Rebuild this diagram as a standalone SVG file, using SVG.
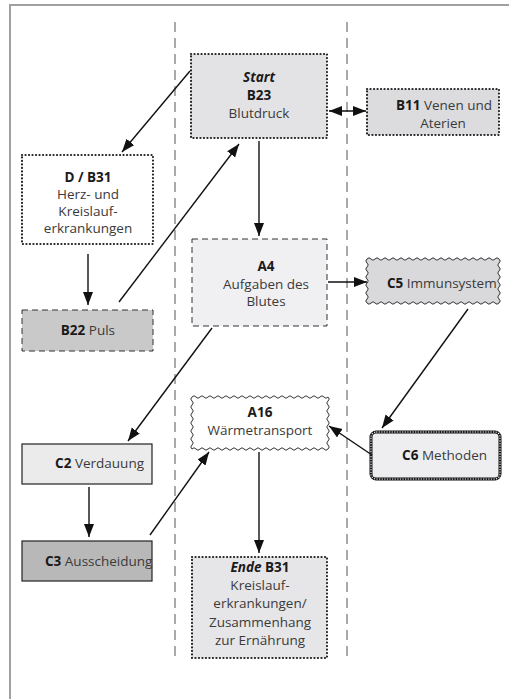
<svg xmlns="http://www.w3.org/2000/svg" width="509" height="699" viewBox="0 0 509 699">
<defs>
<marker id="ah" markerUnits="userSpaceOnUse" markerWidth="14" markerHeight="11" refX="13" refY="5" orient="auto-start-reverse"><path d="M0,0 L13,5 L0,10 z" fill="#111"/></marker>
<style>
text{font-family:"Open Sans","Noto Sans","DejaVu Sans",sans-serif;font-size:13.5px;fill:#3a3a3a}
.b{font-weight:bold;fill:#1a1a1a}
.bi{font-weight:bold;font-style:italic;fill:#1a1a1a}
.m{text-anchor:middle}
.e{text-anchor:end}
.dot{stroke:#222;stroke-width:2.2;stroke-dasharray:0.1 3.4;stroke-linecap:round}
.dash{stroke:#333;stroke-width:1;stroke-dasharray:6 4}
.solid{stroke:#222;stroke-width:1.2}
.wave{stroke:#333;stroke-width:1}
.con line{stroke:#111;stroke-width:1.4;marker-end:url(#ah)}
</style>
</defs>
<rect width="509" height="699" fill="#fff"/>
<path d="M10,699 V5 H509" fill="none" stroke="#a0a0a0" stroke-width="2"/>
<g id="lanes" stroke="#555" stroke-width="1" stroke-dasharray="10 6">
<line x1="175" y1="22" x2="175" y2="657"/>
<line x1="347" y1="22" x2="347" y2="657"/>
</g>
<g id="start">
<rect x="191" y="54" width="136" height="84" fill="#e3e3e5" class="dot"/>
<text x="259" y="82" class="m bi">Start</text>
<text x="259" y="100" class="m b">B23</text>
<text x="259" y="118" class="m">Blutdruck</text>
</g>
<g id="b11">
<rect x="367" y="89" width="132" height="46" fill="#dcdcde" class="dot"/>
<text x="444" y="110" class="m"><tspan class="b">B11</tspan> Venen und</text>
<text x="443" y="128" class="m">Aterien</text>
</g>
<g id="d_b31">
<rect x="22" y="155" width="131" height="89" fill="#fff" class="dot"/>
<text x="88" y="182" class="m b">D / B31</text>
<text x="88" y="199" class="m">Herz- und</text>
<text x="88" y="216" class="m">Kreislauf-</text>
<text x="88" y="233" class="m">erkrankungen</text>
</g>
<g id="b22">
<rect x="22" y="310" width="131" height="41" fill="#c9c9c9" class="dash"/>
<text x="115" y="335" class="e"><tspan class="b">B22</tspan> Puls</text>
</g>
<g id="a4">
<rect x="192" y="239" width="135" height="87" fill="#f0f0f2" class="dash"/>
<text x="266" y="271" class="m b">A4</text>
<text x="266" y="289" class="m">Aufgaben des</text>
<text x="266" y="306" class="m">Blutes</text>
</g>
<g id="c5">
<path d="M367,259 q2,-2.5 4,0 t4,0 t4,0 t4,0 t4,0 t4,0 t4,0 t4,0 t4,0 t4,0 t4,0 t4,0 t4,0 t4,0 t4,0 t4,0 t4,0 t4,0 t4,0 t4,0 t4,0 t4,0 t4,0 t4,0 t4,0 t4,0 t4,0 t4,0 t4,0 t4,0 t4,0 t4,0 t4,0 q2.5,2 0,4 t0,4 t0,4 t0,4 t0,4 t0,4 t0,4 t0,4 t0,4 t0,4 t0,4 q-2,2.5 -4,0 t-4,0 t-4,0 t-4,0 t-4,0 t-4,0 t-4,0 t-4,0 t-4,0 t-4,0 t-4,0 t-4,0 t-4,0 t-4,0 t-4,0 t-4,0 t-4,0 t-4,0 t-4,0 t-4,0 t-4,0 t-4,0 t-4,0 t-4,0 t-4,0 t-4,0 t-4,0 t-4,0 t-4,0 t-4,0 t-4,0 t-4,0 t-4,0 q-2.5,-2 0,-4 t0,-4 t0,-4 t0,-4 t0,-4 t0,-4 t0,-4 t0,-4 t0,-4 t0,-4 t0,-4 z" fill="#d9d9db" class="wave"/>
<text x="387" y="288"><tspan class="b">C5</tspan> Immunsystem</text>
</g>
<g id="c2">
<rect x="22" y="444" width="130" height="40" fill="#ebebeb" class="solid"/>
<text x="144" y="468" class="e"><tspan class="b">C2</tspan> Verdauung</text>
</g>
<g id="c3">
<rect x="22" y="541" width="130" height="40" fill="#b8b8b8" class="solid"/>
<text x="45" y="566"><tspan class="b">C3</tspan> Ausscheidung</text>
</g>
<g id="a16">
<path d="M192,397 q2,-2.5 4,0 t4,0 t4,0 t4,0 t4,0 t4,0 t4,0 t4,0 t4,0 t4,0 t4,0 t4,0 t4,0 t4,0 t4,0 t4,0 t4,0 t4,0 t4,0 t4,0 t4,0 t4,0 t4,0 t4,0 t4,0 t4,0 t4,0 t4,0 t4,0 t4,0 t4,0 t4,0 t4,0 t4,0 q2.5,2 0,4 t0,4 t0,4 t0,4 t0,4 t0,4 t0,4 t0,4 t0,4 t0,4 t0,4 t0,4 t0,4 q-2,2.5 -4,0 t-4,0 t-4,0 t-4,0 t-4,0 t-4,0 t-4,0 t-4,0 t-4,0 t-4,0 t-4,0 t-4,0 t-4,0 t-4,0 t-4,0 t-4,0 t-4,0 t-4,0 t-4,0 t-4,0 t-4,0 t-4,0 t-4,0 t-4,0 t-4,0 t-4,0 t-4,0 t-4,0 t-4,0 t-4,0 t-4,0 t-4,0 t-4,0 t-4,0 q-2.5,-2 0,-4 t0,-4 t0,-4 t0,-4 t0,-4 t0,-4 t0,-4 t0,-4 t0,-4 t0,-4 t0,-4 t0,-4 t0,-4 z" fill="#fff" class="wave"/>
<text x="260" y="417" class="m b">A16</text>
<text x="260" y="435" class="m">Wärmetransport</text>
</g>
<g id="c6">
<rect x="371" y="432" width="129" height="47" rx="5" fill="#eeeef0" stroke="#111" stroke-width="3"/>
<rect x="371" y="432" width="129" height="47" rx="5" fill="none" stroke="#fff" stroke-width="1.1" stroke-dasharray="1.3 1.3"/>
<text x="487" y="460" class="e"><tspan class="b">C6</tspan> Methoden</text>
</g>
<g id="ende">
<rect x="192" y="557" width="135" height="101" fill="#e6e6e8" class="dot"/>
<text x="260" y="572" class="m"><tspan class="bi">Ende</tspan><tspan class="b"> B31</tspan></text>
<text x="260" y="590" class="m">Kreislauf-</text>
<text x="260" y="608" class="m">erkrankungen/</text>
<text x="260" y="627" class="m">Zusammenhang</text>
<text x="260" y="645" class="m">zur Ernährung</text>
</g>
<g id="connectors" class="con">
<line x1="190" y1="71" x2="122" y2="152"/>
<line x1="329" y1="111" x2="366" y2="111" style="marker-start:url(#ah)"/>
<line x1="259" y1="141" x2="259" y2="236"/>
<line x1="88" y1="254" x2="88" y2="305"/>
<line x1="119" y1="302" x2="239" y2="144"/>
<line x1="328" y1="282" x2="367" y2="282"/>
<line x1="212" y1="328" x2="128" y2="441"/>
<line x1="468" y1="309" x2="382" y2="428"/>
<line x1="372" y1="455" x2="329" y2="426"/>
<line x1="89" y1="487" x2="89" y2="537"/>
<line x1="150" y1="535" x2="209" y2="452"/>
<line x1="259" y1="452" x2="259" y2="553"/>
</g>
</svg>
